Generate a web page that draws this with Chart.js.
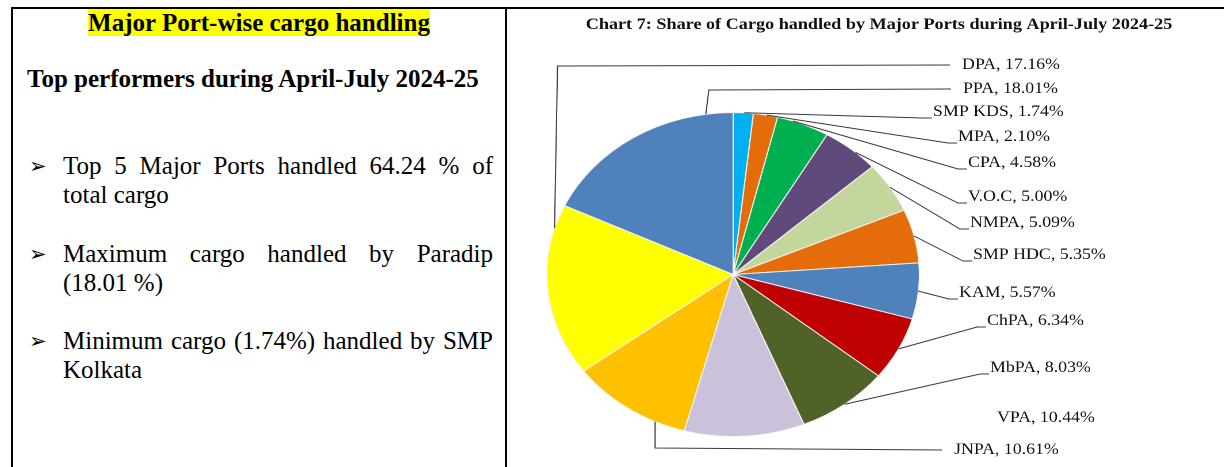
<!DOCTYPE html>
<html>
<head>
<meta charset="utf-8">
<script src="https://cdn.jsdelivr.net/npm/chart.js"></script>
<style>
  html, body { margin: 0; padding: 0; background: #fff; width: 1224px; height: 467px; overflow: hidden; }
  body { position: relative; font-family: "Liberation Serif", "Times New Roman", serif; color: #000; }
  .rule { position: absolute; background: #000; }
  .head { position: absolute; left: 13px; width: 492px; top: 9px; text-align: center; font-size: 25px; font-weight: bold; line-height: 28.75px; }
  .head span { background: #ffff00; }
  .sub { position: absolute; left: 27px; top: 65px; font-size: 25px; font-weight: bold; line-height: 28.75px; white-space: nowrap; }
  .points { position: absolute; left: 63px; top: 151px; width: 430px; font-size: 25px; line-height: 29.2px; }
  .points p { margin: 0 0 29.2px 0; text-align: justify; position: relative; }
  .points p::before { content: "\27A2"; position: absolute; left: -34px; top: 1px; font-family: "DejaVu Sans"; font-size: 21px; line-height: 29.2px; }
  #wrap { position: absolute; left: 506px; top: 9px; transform: scaleX(1.15); transform-origin: 0 0; }
</style>
</head>
<body>
<div class="rule" style="left:11px;top:7px;width:1213px;height:2px"></div>
<div class="rule" style="left:11px;top:7px;width:2px;height:460px"></div>
<div class="rule" style="left:505px;top:7px;width:2px;height:460px"></div>

<div class="head"><span>Major Port-wise cargo handling</span></div>
<div class="sub">Top performers during April-July 2024-25</div>
<div class="points">
  <p>Top 5 Major Ports handled 64.24 % of total cargo</p>
  <p>Maximum cargo handled by Paradip (18.01 %)</p>
  <p>Minimum cargo (1.74%) handled by SMP Kolkata</p>
</div>

<div id="wrap"><canvas id="pieChart" width="625" height="458"></canvas></div>

<script>
// ===== Chart 7: share of cargo by major port =====
const chartTitle = 'Chart 7: Share of Cargo handled by Major Ports during April-July 2024-25';
const ports = ['SMP KDS', 'MPA', 'CPA', 'V.O.C', 'NMPA', 'SMP HDC', 'KAM', 'ChPA', 'MbPA', 'VPA', 'JNPA', 'DPA', 'PPA'];
const shares = [1.74, 2.10, 4.58, 5.00, 5.09, 5.35, 5.57, 6.34, 8.03, 10.44, 10.61, 17.16, 18.01];
const sliceColors = ['#00b0f0', '#e46c0a', '#00b050', '#604a7b', '#c3d69b', '#e46c0a', '#4f81bd',
                     '#c00000', '#4f6228', '#ccc1da', '#ffc000', '#ffff00', '#4f81bd'];

// label placement (page px: text left, text middle) -- the picture is stretched 1.15x sideways
const SX = 1.15, OX = 506, OY = 9;
const labelAt = [[933,112],[958,137],[968,163],[968,197],[970,223],[973,255],[959,293],
                 [987,321],[990,368],[997,418],[954,450],[962,65],[963,89]];
// where the leader leaves the slice, as share of the slice sweep; null = no leader
const anchorFrac = [0.55, 0.55, 0.3, 0.6, 0.5, 0.5, 0.5, 0.5, 0.5, null, 0.25, 0.86, 0.87];
// 'side' = short diagonal + tick, 'vert' = vertical then long horizontal
const leaderKind = ['side','side','side','side','side','side','side','side','side', null, 'vert','vert','vert'];

const fmt = v => v.toFixed(2) + '%';
const toCanvas = (x, y) => [(x - OX) / SX, y - OY];

const labelPlugin = {
  id: 'portLabels',
  afterDraw(chart) {
    const ctx = chart.ctx;
    const meta = chart.getDatasetMeta(0);
    ctx.save();
    // title
    ctx.fillStyle = '#111';
    ctx.font = 'bold 15.8px "Liberation Serif"';
    ctx.textAlign = 'center';
    ctx.textBaseline = 'middle';
    ctx.fillText(chartTitle, (879 - OX) / SX, 25 - OY);

    ctx.font = '15.5px "Liberation Serif"';
    ctx.textAlign = 'left';
    ctx.strokeStyle = '#3a3a3a';
    ctx.lineWidth = 1;
    meta.data.forEach((arc, i) => {
      const [lx, ly] = toCanvas(labelAt[i][0], labelAt[i][1]);
      ctx.fillStyle = '#111';
      ctx.fillText(ports[i] + ', ' + fmt(shares[i]), lx, ly);
      if (anchorFrac[i] === null) return;
      const p = arc.getProps(['x', 'y', 'startAngle', 'endAngle', 'outerRadius'], true);
      const a = p.startAngle + anchorFrac[i] * (p.endAngle - p.startAngle);
      const ax = p.x + p.outerRadius * Math.cos(a);
      const ay = p.y + p.outerRadius * Math.sin(a);
      ctx.beginPath();
      ctx.moveTo(ax, ay);
      if (leaderKind[i] === 'side') {
        ctx.lineTo(lx - 10 / SX, ly + 6);
        ctx.lineTo(lx - 1 / SX, ly + 6);
      } else {
        const ey = ay < ly ? ly - 2 : ly + 1;
        ctx.lineTo(ax + (ay < ly ? 0 : 3 / SX), ey);
        ctx.lineTo(lx - 12 / SX, ly);
      }
      ctx.stroke();
    });
    ctx.restore();
  }
};

new Chart(document.getElementById('pieChart'), {
  type: 'pie',
  data: {
    labels: ports,
    datasets: [{ data: shares, backgroundColor: sliceColors, borderColor: '#f4f4f4', borderWidth: 1 }]
  },
  options: {
    responsive: false,
    devicePixelRatio: 2,
    animation: false,
    layout: { padding: { left: 35, top: 103, right: 265, bottom: 30 } },
    plugins: { legend: { display: false }, tooltip: { enabled: false }, title: { display: false } }
  },
  plugins: [labelPlugin]
});
</script>
</body>
</html>
